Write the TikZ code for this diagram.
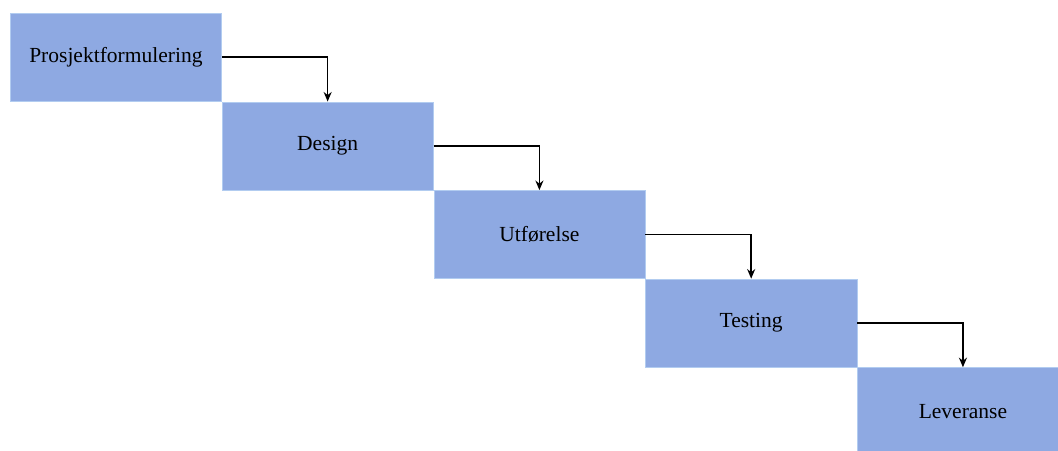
\documentclass[tikz,border=0pt]{standalone}
\usepackage{fontspec}
\setmainfont{Liberation Serif}
\usetikzlibrary{positioning,arrows.meta}
\definecolor{boxblue}{RGB}{142,169,226}
\definecolor{boxedge}{RGB}{178,204,240}
\tikzset{
    phase/.style={rectangle, fill=boxblue, draw=boxedge, line width=0.4pt,
        minimum width=5.28cm, minimum height=2.2cm, inner sep=0pt,
        font=\fontsize{15.3}{18}\selectfont},
    flow/.style={-{Stealth[length=2.4mm,width=2mm]}, line width=1.2pt}
}
\begin{document}
\begin{tikzpicture}
\useasboundingbox (0,0) rectangle (26.45,11.25);

\node[phase, anchor=north west] (p) at (0.25,10.925) {Prosjektformulering};
\node[phase, below right=0cm and 0cm of p] (d) {Design};
\node[phase, below right=0cm and 0cm of d] (u) {Utførelse};
\node[phase, below right=0cm and 0cm of u] (t) {Testing};
\node[phase, below right=0cm and 0cm of t] (l) {Leveranse};

\foreach \a/\b in {p/d,d/u,u/t,t/l}
{
    \draw[flow] (\a.east) -| (\b.north);
}
\end{tikzpicture}
\end{document}
